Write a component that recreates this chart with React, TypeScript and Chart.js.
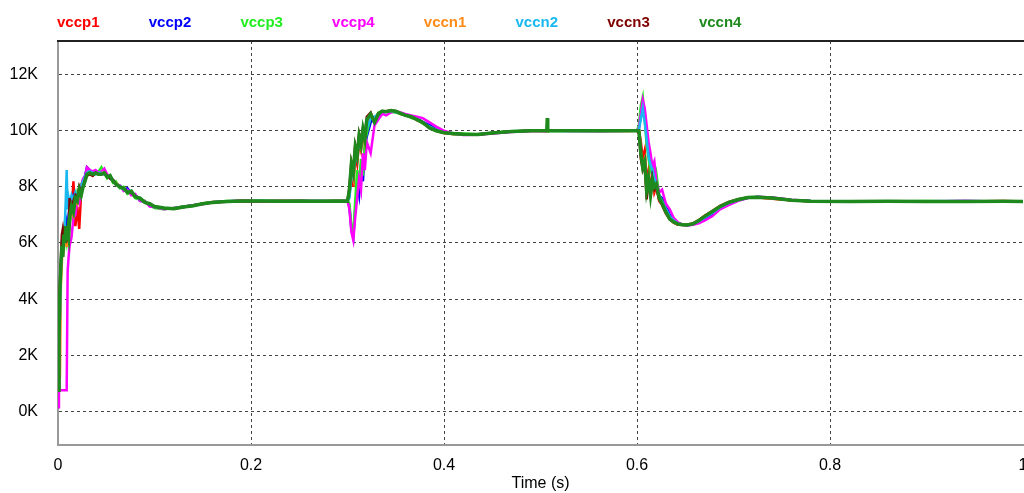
import React, { useEffect, useRef } from 'react';
import { Chart, registerables } from 'chart.js';

Chart.register(...registerables);

// time axis (s)
const timeS = [
  0, 0.001, 0.002, 0.003, 0.004, 0.005, 0.006, 0.007, 0.008, 0.009, 0.010, 0.011, 0.012,
  0.014, 0.016, 0.018, 0.020, 0.022, 0.024, 0.026, 0.028, 0.030,
  0.033, 0.036, 0.039, 0.042, 0.045, 0.048, 0.051, 0.054, 0.057, 0.060,
  0.064, 0.068, 0.072, 0.076, 0.080, 0.085, 0.090, 0.095, 0.100,
  0.110, 0.120, 0.130, 0.140, 0.150, 0.160,
  0.175, 0.190, 0.210, 0.230, 0.250, 0.270, 0.290, 0.300,
  0.302, 0.304, 0.306, 0.308, 0.310, 0.312, 0.314, 0.316, 0.318, 0.320,
  0.324, 0.328, 0.332, 0.336, 0.340, 0.345, 0.350, 0.355, 0.360,
  0.366, 0.372, 0.378, 0.385, 0.392, 0.400, 0.410, 0.420, 0.435, 0.450, 0.470,
  0.490, 0.5065, 0.507, 0.5075, 0.530, 0.560, 0.590, 0.600,
  0.602, 0.604, 0.606, 0.608, 0.610, 0.612, 0.614, 0.616, 0.618, 0.620,
  0.623, 0.626, 0.630, 0.634, 0.638, 0.642, 0.647, 0.652, 0.658, 0.664, 0.670,
  0.678, 0.686, 0.695, 0.705, 0.715, 0.725, 0.740, 0.760, 0.780,
  0.82, 0.86, 0.90, 0.94, 0.98, 1.0,
];

// values in K
const vccp1 = [
  0.75, 2.0, 3.8, 5.0, 5.8, 6.1, 6.5, 6.2, 6.8, 6.4, 6.9, 6.6, 7.2,
  7.0, 8.2, 6.6, 7.3, 6.5, 7.8, 8.1, 8.3, 8.4,
  8.5, 8.4, 8.5, 8.5, 8.45, 8.5, 8.4, 8.35, 8.25, 8.15,
  8.0, 7.9, 7.85, 7.75, 7.65, 7.55, 7.45, 7.35, 7.3,
  7.22, 7.24, 7.3, 7.34, 7.4, 7.46,
  7.48, 7.5, 7.49, 7.5, 7.5, 7.48, 7.5, 7.49,
  7.7, 8.5, 8.0, 9.1, 8.8, 9.6, 9.3, 9.9, 9.5, 10.2,
  10.55, 10.35, 10.6, 10.68, 10.7, 10.7, 10.68, 10.6, 10.55,
  10.5, 10.38, 10.28, 10.12, 10.0, 9.92, 9.88, 9.86, 9.88, 9.92, 9.97,
  10.0, 9.99, 10.0, 10.0, 10.01, 10.0, 9.99, 10.0,
  10.0, 9.6, 9.0, 9.3, 8.2, 8.6, 7.9, 8.4, 7.8, 8.0,
  7.5, 7.35, 7.05, 6.85, 6.72, 6.66, 6.64, 6.66, 6.7, 6.82, 6.97,
  7.14, 7.32, 7.46, 7.56, 7.62, 7.62, 7.58, 7.52, 7.49,
  7.48, 7.49, 7.48, 7.48, 7.5, 7.48,
];

const vccp2 = [
  0.75, 2.2, 4.0, 5.1, 5.7, 5.9, 6.2, 6.5, 6.3, 6.7, 6.5, 7.0, 7.3,
  7.2, 7.6, 7.3, 7.7, 7.8, 8.0, 8.25, 8.4, 8.7,
  8.6, 8.5, 8.55, 8.5, 8.5, 8.45, 8.4, 8.3, 8.2, 8.1,
  8.05, 7.9, 7.95, 7.75, 7.7, 7.5, 7.48, 7.35, 7.28,
  7.22, 7.23, 7.29, 7.35, 7.4, 7.45,
  7.49, 7.5, 7.5, 7.49, 7.5, 7.5, 7.49, 7.5,
  7.3, 6.5, 6.2, 7.2, 8.1, 7.7, 8.8, 8.2, 9.4, 9.8,
  10.3, 10.45, 10.55, 10.65, 10.68, 10.7, 10.66, 10.62, 10.57,
  10.5, 10.44, 10.32, 10.2, 10.05, 9.96, 9.9, 9.87, 9.87, 9.91, 9.97,
  10.0, 10.0, 10.0, 10.01, 10.0, 9.99, 10.0, 10.0,
  10.1, 10.7, 11.0, 10.6, 9.9, 9.3, 8.9, 8.5, 8.6, 8.0,
  7.7, 7.6, 7.3, 7.0, 6.85, 6.72, 6.66, 6.63, 6.67, 6.74, 6.86,
  7.02, 7.25, 7.4, 7.52, 7.61, 7.64, 7.61, 7.53, 7.5,
  7.49, 7.48, 7.49, 7.5, 7.48, 7.49,
];

const vccp3 = [
  0.75, 1.5, 3.5, 4.8, 5.6, 6.0, 5.7, 6.4, 6.2, 6.0, 6.3, 6.7, 6.6,
  7.1, 7.5, 7.4, 7.8, 7.6, 8.1, 8.2, 8.3, 8.5,
  8.55, 8.5, 8.45, 8.55, 8.7, 8.5, 8.3, 8.4, 8.15, 8.2,
  7.95, 8.0, 7.75, 7.8, 7.6, 7.55, 7.5, 7.35, 7.25,
  7.2, 7.25, 7.3, 7.32, 7.42, 7.45,
  7.5, 7.49, 7.51, 7.5, 7.48, 7.5, 7.49, 7.5,
  7.4, 6.6, 6.3, 7.5, 8.6, 8.0, 9.0, 8.4, 9.6, 9.9,
  10.5, 10.4, 10.65, 10.7, 10.7, 10.68, 10.65, 10.6, 10.58,
  10.45, 10.42, 10.25, 10.15, 10.02, 9.95, 9.88, 9.9, 9.88, 9.93, 9.98,
  10.0, 10.01, 10.0, 9.99, 10.0, 10.0, 10.0, 10.0,
  10.2, 10.9, 11.2, 10.4, 9.5, 9.0, 8.6, 8.8, 8.2, 8.5,
  7.7, 7.5, 7.2, 6.9, 6.8, 6.7, 6.66, 6.65, 6.7, 6.78, 6.92,
  7.08, 7.28, 7.42, 7.55, 7.63, 7.65, 7.61, 7.53, 7.5,
  7.49, 7.48, 7.5, 7.48, 7.49, 7.48,
];

const vccp4 = [
  0.15, 0.75, 0.75, 0.75, 0.75, 0.75, 0.75, 0.75, 0.75, 0.75, 5.0, 5.5, 5.9,
  6.2, 6.9, 7.0, 7.5, 7.4, 8.0, 8.3, 8.35, 8.7,
  8.6, 8.55, 8.6, 8.5, 8.55, 8.65, 8.45, 8.3, 8.25, 8.1,
  8.05, 7.85, 7.9, 7.7, 7.75, 7.5, 7.5, 7.3, 7.28,
  7.2, 7.25, 7.27, 7.35, 7.38, 7.45,
  7.47, 7.52, 7.48, 7.5, 7.47, 7.5, 7.48, 7.5,
  7.2, 6.4, 6.1, 6.9, 7.6, 8.3, 7.9, 9.2, 8.6, 9.6,
  9.2, 10.2, 10.4, 10.6, 10.55, 10.65, 10.7, 10.65, 10.6,
  10.55, 10.5, 10.45, 10.3, 10.15, 10.0, 9.9, 9.85, 9.86, 9.9, 9.96,
  10.0, 9.98, 10.0, 10.02, 9.99, 10.0, 10.01, 10.0,
  10.1, 10.6, 11.1, 10.8, 10.2, 9.6, 9.2, 8.7, 8.9, 8.2,
  7.8, 7.9, 7.4, 7.2, 6.9, 6.75, 6.65, 6.62, 6.65, 6.7, 6.8,
  6.95, 7.2, 7.35, 7.5, 7.6, 7.65, 7.62, 7.54, 7.5,
  7.47, 7.49, 7.48, 7.5, 7.48, 7.49,
];

const vccn1 = [
  0.75, 2.5, 1.2, 4.5, 5.3, 6.0, 5.8, 6.1, 6.0, 5.9, 5.9, 6.2, 6.8,
  7.2, 7.0, 7.5, 7.4, 7.8, 7.9, 8.1, 8.25, 8.4,
  8.5, 8.45, 8.5, 8.45, 8.5, 8.5, 8.35, 8.35, 8.2, 8.15,
  8.0, 7.92, 7.82, 7.8, 7.66, 7.58, 7.46, 7.38, 7.3,
  7.24, 7.23, 7.28, 7.34, 7.41, 7.45,
  7.48, 7.51, 7.49, 7.5, 7.49, 7.5, 7.5, 7.49,
  7.8, 8.6, 8.3, 9.2, 9.0, 9.7, 9.4, 10.0, 9.6, 10.3,
  10.6, 10.35, 10.62, 10.7, 10.7, 10.71, 10.69, 10.61, 10.55,
  10.49, 10.4, 10.29, 10.1, 10.0, 9.93, 9.89, 9.87, 9.87, 9.92, 9.97,
  10.0, 10.0, 9.99, 10.0, 10.0, 10.01, 10.0, 10.0,
  10.0, 9.3, 8.8, 9.0, 8.0, 8.4, 7.8, 8.3, 7.9, 8.05,
  7.55, 7.38, 7.08, 6.85, 6.74, 6.67, 6.65, 6.65, 6.69, 6.81, 6.96,
  7.13, 7.31, 7.45, 7.55, 7.62, 7.63, 7.59, 7.52, 7.49,
  7.48, 7.48, 7.49, 7.48, 7.49, 7.48,
];

const vccn2 = [
  0.75, 2.4, 3.3, 5.3, 6.1, 5.8, 6.4, 6.6, 7.5, 8.6, 7.2, 7.6, 7.4,
  7.7, 7.5, 7.8, 7.6, 7.9, 8.0, 8.2, 8.35, 8.5,
  8.55, 8.5, 8.45, 8.5, 8.5, 8.45, 8.4, 8.3, 8.25, 8.1,
  8.02, 7.9, 7.85, 7.78, 7.68, 7.55, 7.47, 7.36, 7.29,
  7.23, 7.24, 7.29, 7.34, 7.4, 7.45,
  7.49, 7.5, 7.5, 7.5, 7.49, 7.5, 7.5, 7.5,
  7.6, 8.3, 8.6, 8.9, 9.3, 9.4, 9.7, 9.8, 9.9, 10.1,
  10.45, 10.5, 10.6, 10.68, 10.7, 10.7, 10.67, 10.62, 10.56,
  10.5, 10.41, 10.3, 10.14, 10.02, 9.94, 9.89, 9.87, 9.88, 9.92, 9.97,
  10.0, 10.0, 10.0, 10.0, 9.99, 10.0, 10.0, 10.0,
  10.05, 10.4, 10.8, 10.3, 9.7, 9.1, 8.8, 8.6, 8.3, 8.1,
  7.65, 7.45, 7.2, 6.95, 6.8, 6.7, 6.65, 6.64, 6.68, 6.77, 6.9,
  7.07, 7.27, 7.42, 7.53, 7.61, 7.64, 7.6, 7.53, 7.5,
  7.48, 7.49, 7.48, 7.49, 7.48, 7.49,
];

const vccn3 = [
  0.75, 3.3, 4.6, 5.4, 6.3, 6.5, 6.2, 6.1, 6.2, 6.1, 6.2, 6.3, 7.6,
  7.2, 7.5, 7.7, 7.6, 8.0, 7.8, 8.0, 8.25, 8.4,
  8.45, 8.4, 8.5, 8.45, 8.45, 8.5, 8.4, 8.3, 8.25, 8.1,
  8.0, 7.95, 7.82, 7.8, 7.66, 7.58, 7.46, 7.38, 7.3,
  7.24, 7.22, 7.28, 7.33, 7.4, 7.44,
  7.48, 7.5, 7.49, 7.5, 7.5, 7.49, 7.5, 7.5,
  8.0, 8.9, 8.6, 9.5, 9.2, 9.9, 9.6, 10.1, 9.8, 10.5,
  10.65, 10.3, 10.62, 10.7, 10.7, 10.72, 10.7, 10.62, 10.55,
  10.5, 10.4, 10.3, 10.1, 10.0, 9.93, 9.9, 9.88, 9.87, 9.92, 9.97,
  10.0, 10.0, 10.0, 10.0, 10.0, 9.99, 10.0, 10.0,
  9.9, 9.0, 8.6, 8.8, 7.55, 8.4, 7.6, 8.3, 7.9, 8.0,
  7.55, 7.38, 7.08, 6.84, 6.74, 6.67, 6.65, 6.64, 6.69, 6.8, 6.95,
  7.12, 7.3, 7.45, 7.55, 7.62, 7.63, 7.6, 7.52, 7.49,
  7.48, 7.49, 7.48, 7.48, 7.49, 7.48,
];

const vccn4 = [
  0.75, 2.6, 4.3, 5.2, 5.9, 5.5, 6.3, 6.0, 6.6, 6.1, 6.4, 6.2, 6.9,
  7.3, 7.1, 7.6, 7.5, 7.9, 7.7, 8.0, 8.2, 8.45,
  8.5, 8.45, 8.5, 8.45, 8.45, 8.5, 8.35, 8.4, 8.2, 8.1,
  8.0, 7.95, 7.8, 7.85, 7.65, 7.6, 7.45, 7.4, 7.3,
  7.25, 7.22, 7.28, 7.33, 7.4, 7.44,
  7.48, 7.5, 7.5, 7.49, 7.5, 7.49, 7.5, 7.49,
  7.9, 8.8, 8.5, 9.4, 9.1, 9.8, 9.5, 10.05, 9.7, 10.4,
  10.6, 10.3, 10.6, 10.7, 10.68, 10.72, 10.7, 10.62, 10.55,
  10.5, 10.4, 10.3, 10.1, 10.0, 9.93, 9.9, 9.88, 9.87, 9.92, 9.97,
  10.0, 10.0, 10.45, 10.0, 10.0, 10.0, 10.0, 10.0,
  10.0, 9.2, 8.7, 8.9, 7.9, 8.3, 7.7, 8.25, 8.0, 8.1,
  7.6, 7.4, 7.1, 6.85, 6.75, 6.68, 6.65, 6.64, 6.68, 6.8, 6.95,
  7.12, 7.3, 7.45, 7.55, 7.62, 7.63, 7.6, 7.52, 7.49,
  7.48, 7.49, 7.48, 7.48, 7.49, 7.48,
];

const seriesNames = ['vccp1', 'vccp2', 'vccp3', 'vccp4', 'vccn1', 'vccn2', 'vccn3', 'vccn4'];
const seriesValues = [vccp1, vccp2, vccp3, vccp4, vccn1, vccn2, vccn3, vccn4];
const seriesColors = ['#ff0000', '#0000ff', '#22ee22', '#ff00ff', '#ff8c1a', '#1ab8f0', '#800000', '#1e8a1e'];
const seriesWidths = [2.5, 2.5, 2.5, 2.5, 2.5, 2.5, 2.5, 3.5];

const xTicks = [0, 0.2, 0.4, 0.6, 0.8, 1];
const yTicksK = [0, 2, 4, 6, 8, 10, 12];

const FONT = '"Liberation Sans", Arial, sans-serif';

export default function App() {
  const canvasRef = useRef<HTMLCanvasElement | null>(null);

  useEffect(() => {
    document.body.style.margin = '0';
    const canvas = canvasRef.current;
    if (!canvas) return;

    const topLegend = {
      id: 'topLegend',
      afterDraw(chart: any) {
        const { ctx, chartArea } = chart;
        ctx.save();
        // top frame line
        ctx.strokeStyle = '#222222';
        ctx.lineWidth = 2;
        ctx.beginPath();
        ctx.moveTo(chartArea.left - 1, chartArea.top);
        ctx.lineTo(chartArea.right + 2, chartArea.top);
        ctx.stroke();
        // legend texts
        ctx.font = `bold 15px ${FONT}`;
        ctx.textAlign = 'left';
        ctx.textBaseline = 'alphabetic';
        chart.data.datasets.forEach((ds: any, i: number) => {
          ctx.fillStyle = ds.borderColor;
          ctx.fillText(ds.label, chartArea.left - 1 + i * 91.7, 27);
        });
        ctx.restore();
      },
    };

    const chart = new Chart(canvas, {
      type: 'line',
      data: {
        datasets: seriesNames.map((name, k) => ({
          label: name,
          data: timeS.map((t, i) => ({ x: t, y: seriesValues[k][i] })),
          borderColor: seriesColors[k],
          backgroundColor: seriesColors[k],
          borderWidth: seriesWidths[k],
          order: seriesNames.length - k,
          pointRadius: 0,
          tension: 0,
          fill: false,
        })),
      },
      plugins: [topLegend],
      options: {
        animation: false,
        responsive: false,
        maintainAspectRatio: false,
        layout: { padding: { top: 41, right: 1, left: 0, bottom: 0 } },
        plugins: {
          legend: { display: false },
          tooltip: { enabled: false },
        },
        scales: {
          x: {
            type: 'linear',
            position: 'bottom',
            min: 0,
            max: 1,
            afterBuildTicks: (scale: any) => {
              scale.ticks = xTicks.map((v) => ({ value: v }));
            },
            afterFit: (scale: any) => {
              scale.height = 48;
              scale.paddingRight = 0;
              scale.paddingLeft = 0;
            },
            ticks: {
              color: '#000000',
              font: { family: FONT, size: 16 },
              padding: 11,
              maxRotation: 0,
              autoSkip: false,
              callback: (v: any) => String(Number(Number(v).toFixed(1))),
            },
            grid: {
              drawTicks: false,
              color: (c: any) =>
                c.tick && (c.tick.value === 0 || c.tick.value === 1) ? 'rgba(0,0,0,0)' : '#444444',
              lineWidth: 1,
            },
            border: { display: true, color: '#999999', width: 2, dash: [3, 3] },
            title: {
              display: true,
              text: 'Time (s)',
              color: '#000000',
              font: { family: FONT, size: 16 },
              padding: { top: 0, bottom: 0 },
            },
          },
          y: {
            type: 'linear',
            position: 'left',
            min: -1.2,
            max: 13.2,
            afterBuildTicks: (scale: any) => {
              scale.ticks = yTicksK.map((v) => ({ value: v }));
            },
            afterFit: (scale: any) => {
              scale.width = 58;
            },
            ticks: {
              color: '#000000',
              font: { family: FONT, size: 16 },
              padding: 20,
              callback: (v: any) => `${v}K`,
            },
            grid: {
              drawTicks: false,
              color: '#444444',
              lineWidth: 1,
            },
            border: { display: true, color: '#999999', width: 2, dash: [3, 3] },
          },
        },
      },
    });

    return () => chart.destroy();
  }, []);

  return (
    <div style={{ width: 1024, height: 493, overflow: 'hidden', background: '#ffffff' }}>
      <canvas ref={canvasRef} width={1024} height={493} style={{ display: 'block' }} />
    </div>
  );
}
